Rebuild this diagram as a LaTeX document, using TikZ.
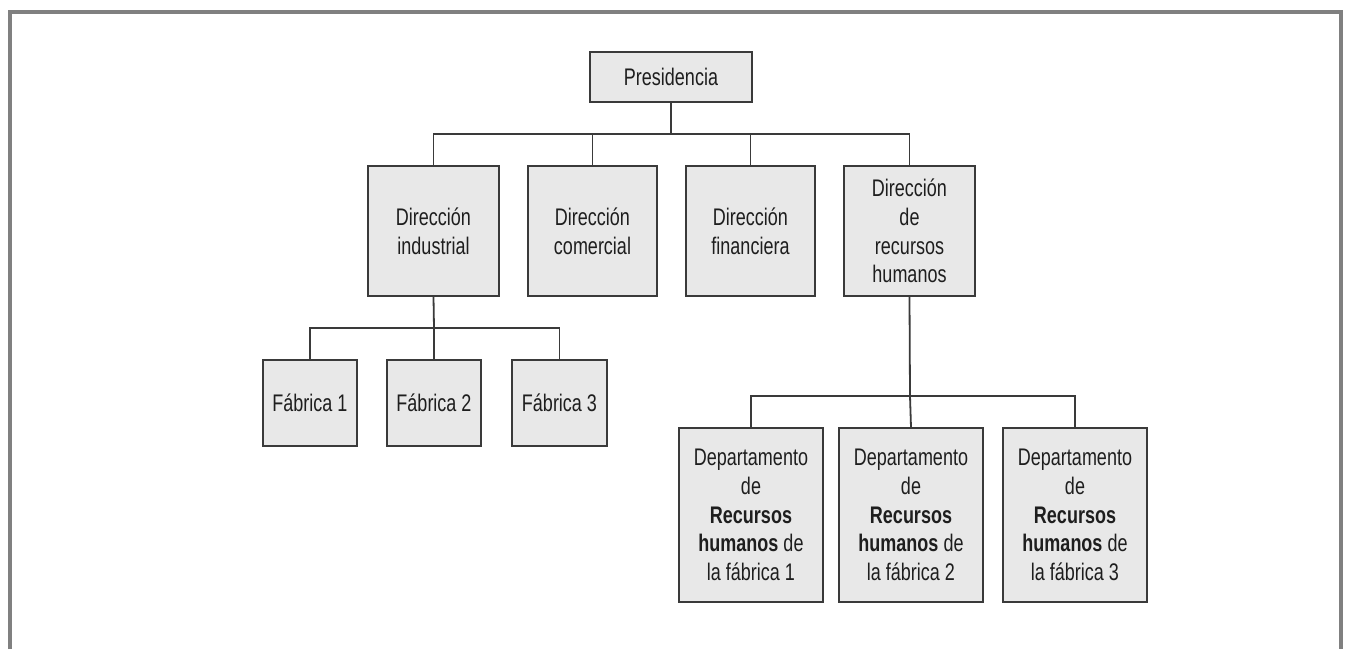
\documentclass[tikz,border=0pt]{standalone}
\usepackage{fontspec}
\setmainfont{Liberation Sans}[FakeStretch=0.75]
\begin{document}
\begin{tikzpicture}[x=1pt,y=-1pt,
  box/.style={draw=boxline, fill=boxfill, line width=1.8pt, inner sep=0pt,
    align=center, text=textcol,
    font=\fontsize{24}{28.7}\selectfont},
  link/.style={draw=boxline, line width=1.8pt},
  frame/.style={draw=framecol, line width=4pt}]
\definecolor{boxline}{HTML}{3A3A3A}
\definecolor{boxfill}{HTML}{E8E8E8}
\definecolor{textcol}{HTML}{1E1E1E}
\definecolor{framecol}{HTML}{808080}
\useasboundingbox (0,0) rectangle (1345,649);
\fill[white] (0,0) rectangle (1345,649);
% outer frame, open at the bottom
\draw[frame] (10,649) -- (10,12) -- (1341,12) -- (1341,649);

% top level
\node[box, minimum width=162pt, minimum height=50pt] (pres) at (671,77) {Presidencia};

% directorates
\node[box, minimum width=131pt, minimum height=130pt] (dind) at (433.5,231) {Dirección\\industrial};
\node[box, minimum width=129pt, minimum height=130pt] (dcom) at (592.5,231) {Dirección\\comercial};
\node[box, minimum width=129pt, minimum height=130pt] (dfin) at (750.5,231) {Dirección\\financiera};
\node[box, minimum width=131pt, minimum height=130pt] (drh) at (909.5,231) {Dirección\\de\\recursos\\humanos};

% factories
\node[box, minimum width=94pt, minimum height=86pt] (f1) at (310,403) {Fábrica 1};
\node[box, minimum width=94pt, minimum height=86pt] (f2) at (434,403) {Fábrica 2};
\node[box, minimum width=95pt, minimum height=86pt] (f3) at (559.5,403) {Fábrica 3};

% HR departments
\node[box, minimum width=144pt, minimum height=174pt] (hr1) at (751,515)
  {Departamento\\de\\\textbf{Recursos}\\\textbf{humanos} de\\la fábrica 1};
\node[box, minimum width=144pt, minimum height=174pt] (hr2) at (911,515)
  {Departamento\\de\\\textbf{Recursos}\\\textbf{humanos} de\\la fábrica 2};
\node[box, minimum width=144pt, minimum height=174pt] (hr3) at (1075,515)
  {Departamento\\de\\\textbf{Recursos}\\\textbf{humanos} de\\la fábrica 3};

% bus junctions
\coordinate (busA) at (671,134);
\coordinate (busB) at (434,328);
\coordinate (busC) at (910,396);

% connectors
\draw[link] (pres.south) -- (busA);
\draw[link] (dind.north) |- (busA) -| (drh.north);
\draw[link] (dcom.north) |- (busA);
\draw[link] (dfin.north) |- (busA);

\draw[link] (dind.south) -- (busB);
\draw[link] (f1.north) |- (busB) -| (f3.north);
\draw[link] (f2.north) -- (busB);

\draw[link] (drh.south) -- (busC);
\draw[link] (hr1.north) |- (busC) -| (hr3.north);
\draw[link] (hr2.north) -- (busC);
\end{tikzpicture}
\end{document}
